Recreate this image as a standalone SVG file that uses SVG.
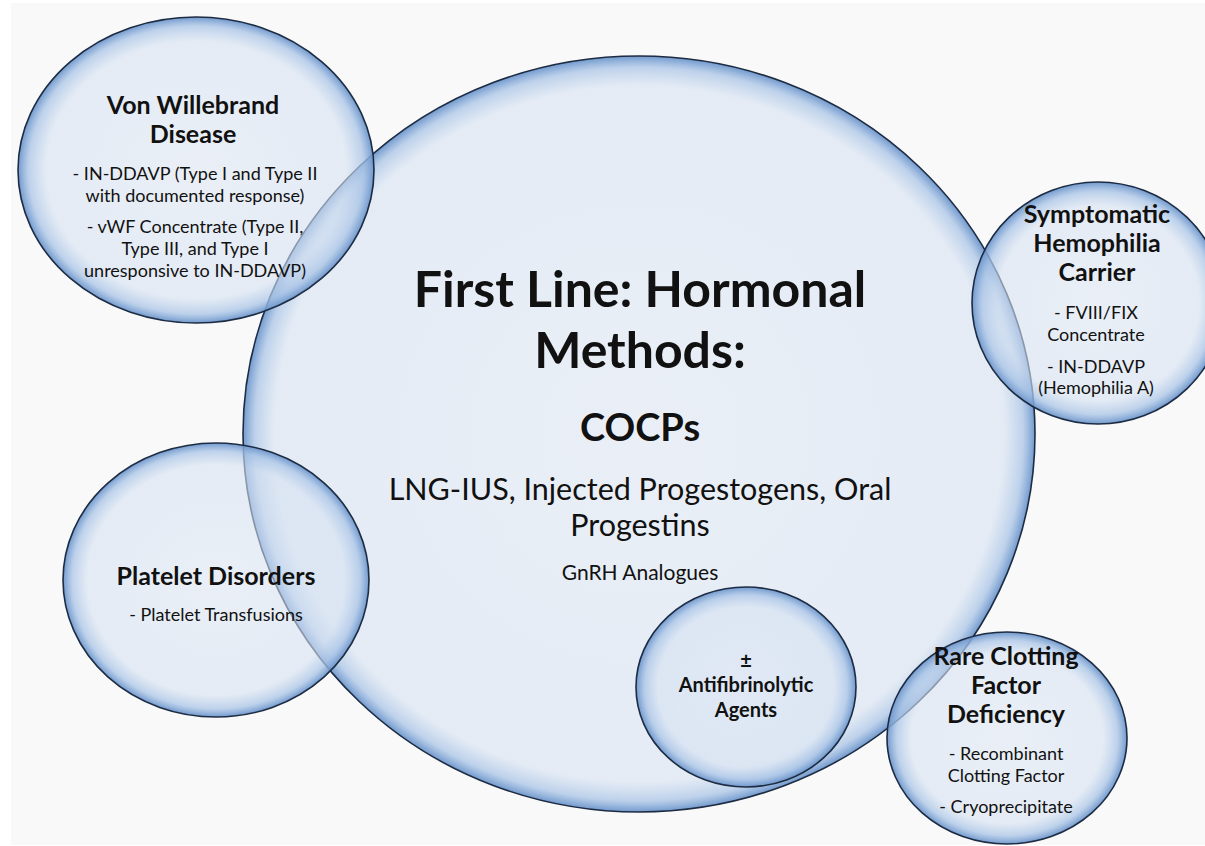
<svg xmlns="http://www.w3.org/2000/svg" width="1205" height="846" viewBox="0 0 1205 846">
<defs>
<radialGradient id="gBig" cx="0.5" cy="0.5" r="0.5">
<stop offset="0" stop-color="#dbe5f4" stop-opacity="0.5"/>
<stop offset="0.92" stop-color="#d6e2f2" stop-opacity="0.6"/>
<stop offset="0.97" stop-color="#a9c4e6" stop-opacity="0.75"/>
<stop offset="1" stop-color="#6a94cb" stop-opacity="0.95"/>
</radialGradient>
<radialGradient id="gMed" cx="0.5" cy="0.5" r="0.5">
<stop offset="0" stop-color="#dbe5f4" stop-opacity="0.5"/>
<stop offset="0.84" stop-color="#d6e2f2" stop-opacity="0.6"/>
<stop offset="0.94" stop-color="#a9c4e6" stop-opacity="0.75"/>
<stop offset="1" stop-color="#6a94cb" stop-opacity="0.95"/>
</radialGradient>
<radialGradient id="gSmall" cx="0.5" cy="0.5" r="0.5">
<stop offset="0" stop-color="#dbe5f4" stop-opacity="0.5"/>
<stop offset="0.8" stop-color="#d6e2f2" stop-opacity="0.6"/>
<stop offset="0.92" stop-color="#a9c4e6" stop-opacity="0.75"/>
<stop offset="1" stop-color="#6a94cb" stop-opacity="0.95"/>
</radialGradient>
</defs>
<style>
.c{stroke:#1d2c42;stroke-width:1.6}
text{font-family:Lato,"Open Sans","Liberation Sans",sans-serif;fill:#111;text-anchor:middle}
.h{font-weight:700;font-size:25px}
.b{font-size:18px}
.t1{font-weight:700;font-size:50px}
.t2{font-weight:700;font-size:38px}
.t3{font-size:30.5px}
.t4{font-size:21px}
.a{font-weight:700;font-size:20px}
</style>
<rect x="0" y="0" width="1205" height="846" fill="#ffffff"/>
<rect x="11" y="3" width="1194" height="842" fill="#f9f9f9"/>
<g id="main">
<ellipse class="c" cx="639" cy="434" rx="396" ry="378" fill="url(#gBig)"/>
<text class="t1" x="640" y="307">First Line: Hormonal</text>
<text class="t1" x="640" y="368">Methods:</text>
<text class="t2" x="640" y="441">COCPs</text>
<text class="t3" x="640" y="500">LNG-IUS, Injected Progestogens, Oral</text>
<text class="t3" x="640" y="536">Progestins</text>
<text class="t4" x="640" y="580">GnRH Analogues</text>
</g>
<g id="vwd">
<ellipse class="c" cx="196" cy="170" rx="178" ry="153" fill="url(#gMed)"/>
<text class="h" x="193" y="114">Von Willebrand</text>
<text class="h" x="193" y="143">Disease</text>
<text class="b" x="195" y="180">- IN-DDAVP (Type I and Type II</text>
<text class="b" x="195" y="202">with documented response)</text>
<text class="b" x="195" y="233">- vWF Concentrate (Type II,</text>
<text class="b" x="195" y="255">Type III, and Type I</text>
<text class="b" x="195" y="277">unresponsive to IN-DDAVP)</text>
</g>
<g id="platelet">
<ellipse class="c" cx="216" cy="580" rx="153" ry="137" fill="url(#gMed)"/>
<text class="h" x="216" y="585">Platelet Disorders</text>
<text class="b" x="216" y="621">- Platelet Transfusions</text>
</g>
<g id="hemophilia">
<ellipse class="c" cx="1098" cy="303" rx="126" ry="121" fill="url(#gSmall)"/>
<text class="h" x="1097" y="223">Symptomatic</text>
<text class="h" x="1097" y="252">Hemophilia</text>
<text class="h" x="1097" y="281">Carrier</text>
<text class="b" x="1096" y="319">- FVIII/FIX</text>
<text class="b" x="1096" y="341">Concentrate</text>
<text class="b" x="1096" y="373">- IN-DDAVP</text>
<text class="b" x="1096" y="394">(Hemophilia A)</text>
</g>
<g id="antifib">
<ellipse class="c" cx="746" cy="687" rx="110" ry="100" fill="url(#gSmall)"/>
<text class="a" x="746" y="668">±</text>
<text class="a" x="746" y="692">Antifibrinolytic</text>
<text class="a" x="746" y="717">Agents</text>
</g>
<g id="rare">
<ellipse class="c" cx="1007" cy="738" rx="120" ry="106" fill="url(#gSmall)"/>
<text class="h" x="1006" y="665">Rare Clotting</text>
<text class="h" x="1006" y="694">Factor</text>
<text class="h" x="1006" y="723">Deficiency</text>
<text class="b" x="1006" y="760">- Recombinant</text>
<text class="b" x="1006" y="782">Clotting Factor</text>
<text class="b" x="1006" y="813">- Cryoprecipitate</text>
</g>
<g id="connectors"/>
</svg>
